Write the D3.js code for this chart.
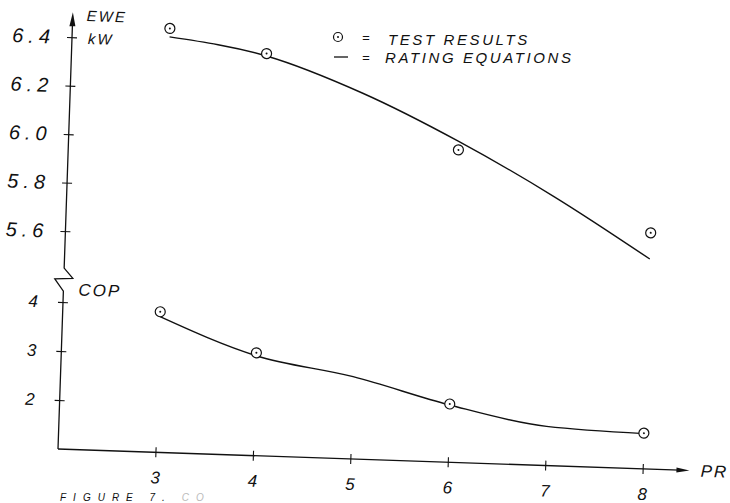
<!DOCTYPE html>
<meta charset="utf-8">
<style>
  body { margin: 0; background: #fff; }
  text { font-family: "Liberation Sans", "DejaVu Sans", sans-serif; font-style: italic; fill: #111; }
  .ax line, .ax path { stroke: #111; }
</style>
<body>
<svg width="730" height="503"></svg>
<script src="https://d3js.org/d3.v7.min.js"></script>
<script>

// values
var prTicks  = [3, 4, 5, 6, 7, 8];
var eweTicks = [5.6, 5.8, 6.0, 6.2, 6.4];
var copTicks = [2, 3, 4];

var testPR  = [3, 4, 6, 8];
var testEWE = [6.45, 6.36, 5.99, 5.675];
var testCOP = [3.87, 3.10, 2.19, 1.73];

var ratePR  = [3, 4, 5, 6, 7, 8];
var rateEWE = [6.415, 6.35, 6.21, 6.025, 5.81, 5.567];
var rateCOP = [3.77, 3.04, 2.68, 2.17, 1.80, 1.72];

var svg = d3.select("svg");

// the scanned sheet sits a little crooked
var g = svg.append("g")
    .attr("transform", "translate(58,449) rotate(1.95)");

var x   = d3.scaleLinear().domain([2, 8]).range([0, 585]);
var ewe = d3.scaleLinear().domain([5.6, 6.4]).range([-218, -412]);
var cop = d3.scaleLinear().domain([1, 4]).range([0, -147]);

// axis lines
var axisStroke = "#111";
g.append("path")
    .attr("d", "M0,0 L0,-158 L-9,-170 L9,-171 L0,-181 L0,-425")
    .attr("fill", "none").attr("stroke", axisStroke).attr("stroke-width", 1.3);
g.append("path")
    .attr("d", "M0,-437 L-3,-423 L3,-423 Z").attr("fill", axisStroke);
g.append("line")
    .attr("x1", 0).attr("y1", 0).attr("x2", x(8.38)).attr("y2", 0)
    .attr("stroke", axisStroke).attr("stroke-width", 1.4);
g.append("path")
    .attr("d", "M" + x(8.48) + ",0 l-13,-2.5 l0,5 Z").attr("fill", axisStroke);

function crossTicks(sel) {
  sel.select(".domain").remove();
  sel.selectAll(".tick line").attr("stroke", axisStroke).attr("stroke-width", 1.1);
}

var eweAxis = g.append("g").attr("class", "ax")
    .call(d3.axisLeft(ewe).tickValues(eweTicks).tickFormat(d3.format(".1f"))
      .tickSize(5).tickPadding(12))
    .call(crossTicks);
eweAxis.selectAll(".tick line").attr("x1", 5);
eweAxis.selectAll(".tick text")
    .attr("font-size", 20).attr("letter-spacing", 5).attr("font-family", null);

var copAxis = g.append("g").attr("class", "ax")
    .call(d3.axisLeft(cop).tickValues(copTicks).tickFormat(d3.format("d"))
      .tickSize(5).tickPadding(20))
    .call(crossTicks);
copAxis.selectAll(".tick line").attr("x1", 5);
copAxis.selectAll(".tick text").attr("font-size", 17).attr("font-family", null);

var prAxis = g.append("g").attr("class", "ax")
    .call(d3.axisBottom(x).tickValues(prTicks).tickFormat(d3.format("d"))
      .tickSize(5).tickPadding(14))
    .call(crossTicks);
prAxis.selectAll(".tick line").attr("y1", -5);
prAxis.selectAll(".tick text").attr("font-size", 17).attr("font-family", null);

// axis titles
g.append("text").attr("x", 14).attr("y", -434).attr("dy", "0.35em")
    .attr("font-size", 15).attr("letter-spacing", 2).text("EWE");
g.append("text").attr("x", 16).attr("y", -411).attr("dy", "0.35em")
    .attr("font-size", 15).attr("letter-spacing", 2).text("kW");
g.append("text").attr("x", 15).attr("y", -160).attr("dy", "0.35em")
    .attr("font-size", 17).attr("letter-spacing", 2).text("COP");
g.append("text").attr("x", 643).attr("y", 0).attr("dy", "0.35em")
    .attr("font-size", 17).attr("letter-spacing", 2).text("PR");

// rating equation curves
function curve(vals, yScale) {
  return d3.line()
    .x(function(d, i) { return x(ratePR[i]); })
    .y(function(d) { return yScale(d); })
    .curve(d3.curveMonotoneX)(vals);
}
g.append("path").attr("d", curve(rateEWE, ewe))
    .attr("fill", "none").attr("stroke", "#111").attr("stroke-width", 1.4);
g.append("path").attr("d", curve(rateCOP, cop))
    .attr("fill", "none").attr("stroke", "#111").attr("stroke-width", 1.4);

// test result markers
function markers(vals, yScale) {
  var m = g.append("g").selectAll("g")
    .data(vals).enter().append("g")
      .attr("transform", function(d, i) { return "translate(" + x(testPR[i]) + "," + yScale(d) + ")"; });
  m.append("circle").attr("r", 5).attr("fill", "#fff").attr("stroke", "#111").attr("stroke-width", 1.2);
  m.append("circle").attr("r", 1).attr("fill", "#111");
}
markers(testEWE, ewe);
markers(testCOP, cop);

// legend
var leg = svg.append("g");
leg.append("circle").attr("cx", 338).attr("cy", 37).attr("r", 4.5)
    .attr("fill", "none").attr("stroke", "#111").attr("stroke-width", 1.2);
leg.append("circle").attr("cx", 338).attr("cy", 37).attr("r", 1).attr("fill", "#111");
leg.append("line").attr("x1", 334).attr("x2", 348).attr("y1", 57).attr("y2", 57)
    .attr("stroke", "#111").attr("stroke-width", 1.3);
leg.append("text").attr("x", 362).attr("y", 42).attr("font-size", 13).text("=");
leg.append("text").attr("x", 362).attr("y", 62).attr("font-size", 13).text("=");
leg.append("text").attr("x", 388).attr("y", 45).attr("font-size", 15)
    .attr("letter-spacing", 2.6).text("TEST RESULTS");
leg.append("text").attr("x", 385).attr("y", 63).attr("font-size", 15)
    .attr("letter-spacing", 2.6).text("RATING EQUATIONS");

// caption along the bottom edge
var cap = svg.append("text").attr("x", 60).attr("y", 501)
    .attr("font-size", 10).attr("letter-spacing", 7);
cap.append("tspan").text("FIGURE 7. ");
cap.append("tspan").attr("fill", "#bbb").text("CO");

</script>
</body>
